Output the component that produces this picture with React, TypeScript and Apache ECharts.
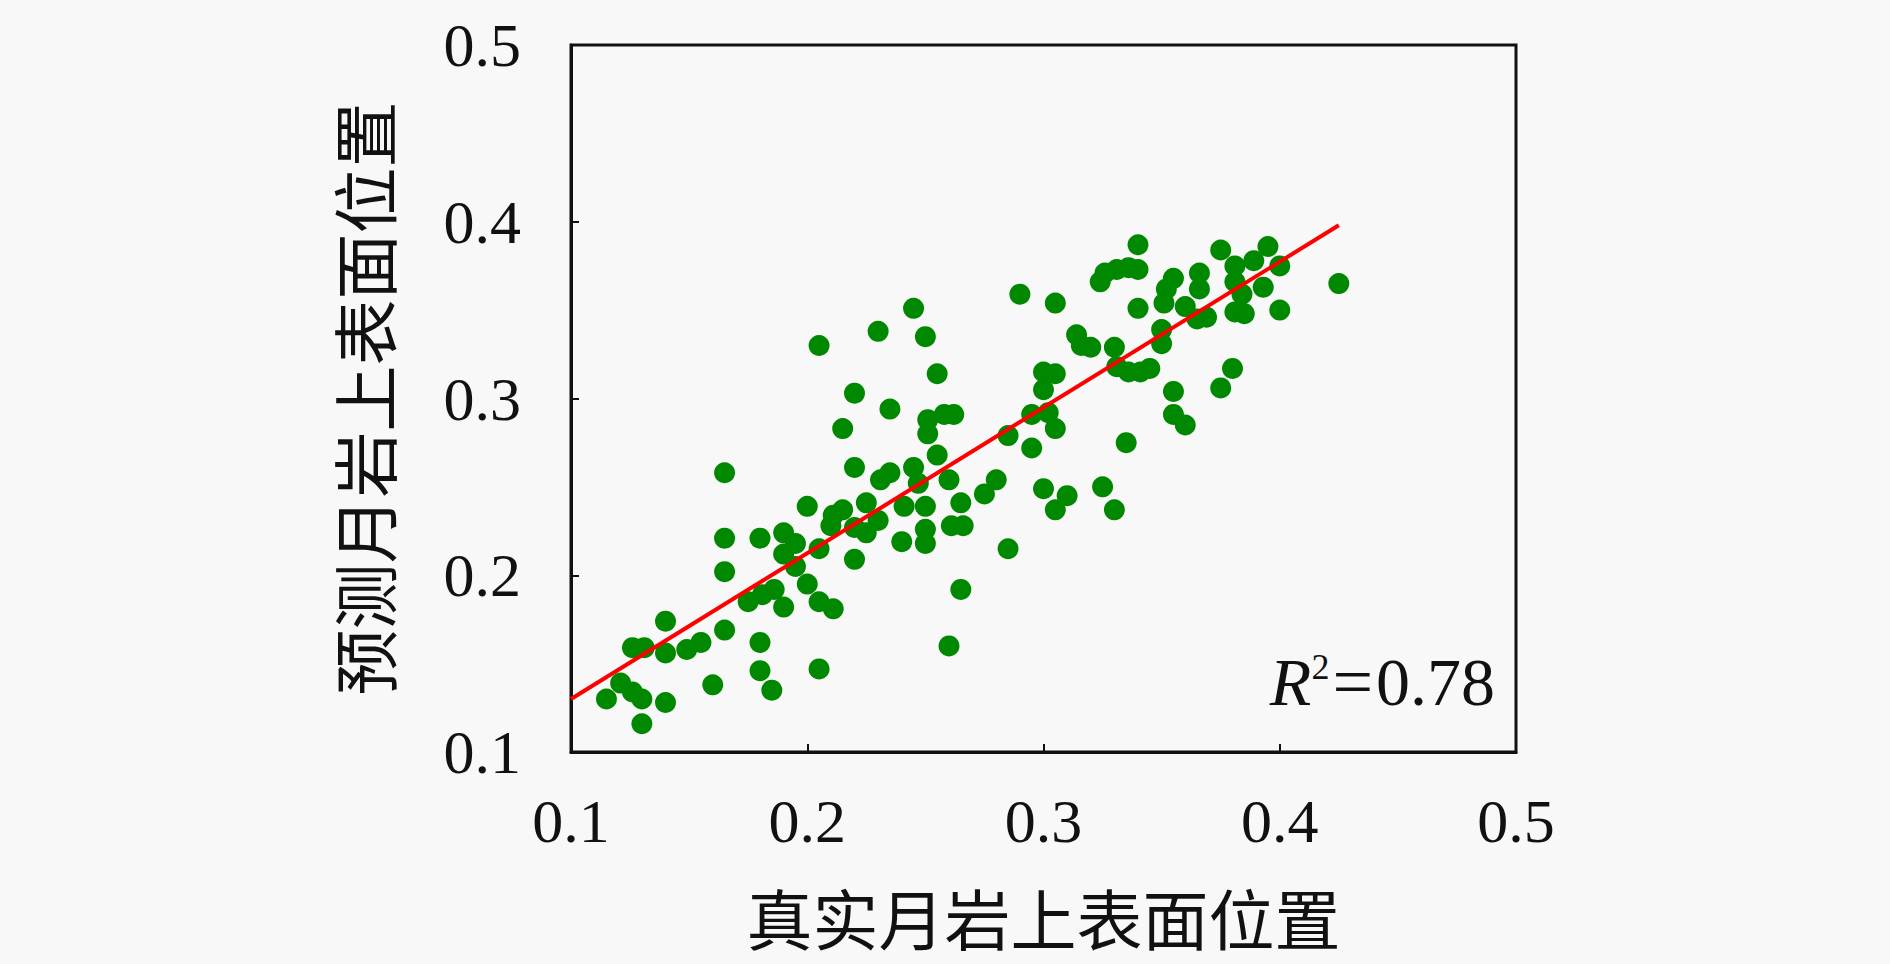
import React, { useEffect, useRef } from "react";
import * as echarts from "echarts";

// Real (x) and predicted (y) upper-surface positions of lunar rock
const realPos = [
  0.115, 0.121, 0.126, 0.131, 0.126, 0.130, 0.130, 0.140, 0.140, 0.140, 0.149, 0.155,
  0.160, 0.165, 0.165, 0.165, 0.165, 0.180, 0.180, 0.180, 0.185,
  0.175, 0.181, 0.186, 0.190, 0.190, 0.195, 0.190, 0.195,
  0.200, 0.200, 0.205, 0.211, 0.205, 0.205,
  0.215, 0.220, 0.220, 0.211, 0.215, 0.210, 0.220, 0.225, 0.225, 0.230,
  0.235, 0.231, 0.235, 0.241, 0.245, 0.247, 0.250, 0.255, 0.251, 0.251, 0.258, 0.262, 0.260,
  0.240, 0.250, 0.250, 0.265, 0.261, 0.266, 0.260, 0.265, 0.275, 0.280,
  0.285, 0.285, 0.295, 0.295,
  0.205, 0.220, 0.230, 0.245, 0.250, 0.255,
  0.300, 0.310, 0.305, 0.325, 0.330, 0.335, 0.355, 0.355, 0.360, 0.375, 0.380,
  0.300, 0.305, 0.300, 0.302, 0.305,
  0.290, 0.305, 0.314, 0.320, 0.316, 0.330, 0.331, 0.336, 0.341, 0.345, 0.350, 0.350,
  0.340, 0.326, 0.324, 0.331, 0.336, 0.340, 0.340,
  0.352, 0.355, 0.351, 0.360, 0.366, 0.366, 0.369, 0.365, 0.384,
  0.375, 0.381, 0.381, 0.381, 0.385, 0.389, 0.395, 0.393, 0.400, 0.400, 0.425,
];
const predictedPos = [
  0.130, 0.139, 0.159, 0.159, 0.134, 0.130, 0.116, 0.128, 0.174, 0.156, 0.158, 0.162,
  0.138, 0.169, 0.202, 0.221, 0.258, 0.221, 0.162, 0.146, 0.135,
  0.185, 0.189, 0.192, 0.182, 0.224, 0.218, 0.212, 0.205,
  0.239, 0.195, 0.185, 0.181, 0.147, 0.215,
  0.283, 0.261, 0.209, 0.234, 0.237, 0.228, 0.227, 0.241, 0.224, 0.231,
  0.294, 0.254, 0.258, 0.239, 0.261, 0.252, 0.239, 0.268, 0.280, 0.288, 0.291, 0.291, 0.254,
  0.219, 0.226, 0.218, 0.241, 0.228, 0.228, 0.160, 0.192, 0.246, 0.254,
  0.279, 0.215, 0.272, 0.291,
  0.330, 0.303, 0.338, 0.351, 0.335, 0.314,
  0.249, 0.245, 0.237, 0.250, 0.237, 0.275, 0.304, 0.291, 0.285, 0.306, 0.317,
  0.315, 0.314, 0.305, 0.292, 0.283,
  0.359, 0.354, 0.336, 0.329, 0.330, 0.329, 0.318, 0.315, 0.315, 0.317, 0.339, 0.331,
  0.387, 0.371, 0.366, 0.373, 0.374, 0.373, 0.351,
  0.362, 0.368, 0.354, 0.352, 0.371, 0.362, 0.346, 0.345, 0.359,
  0.384, 0.375, 0.366, 0.349, 0.348, 0.378, 0.386, 0.363, 0.375, 0.350, 0.365,
];

// Fitted regression line end points
const fitX = [0.1, 0.425];
const fitY = [0.13, 0.398];

const axisTicks = [0.1, 0.2, 0.3, 0.4, 0.5];
const xTitle = "真实月岩上表面位置";
const yTitle = "预测月岩上表面位置";
const r2Value = "0.78";

const serif = "'Liberation Serif', 'DejaVu Serif', serif";
const cjk = "'Noto Sans CJK SC', sans-serif";

export default function App() {
  const ref = useRef<HTMLDivElement>(null);

  useEffect(() => {
    document.body.style.margin = "0";
    document.body.style.background = "#f8f8f8";
    if (!ref.current) return;
    const chart = echarts.init(ref.current, undefined, { renderer: "svg" });

    const points = realPos.map((x, i) => [x, predictedPos[i]]);
    const fitLine = fitX.map((x, i) => [x, fitY[i]]);

    const axisCommon = {
      type: "value" as const,
      min: axisTicks[0],
      max: axisTicks[axisTicks.length - 1],
      interval: 0.1,
      splitLine: { show: false },
      axisLine: { show: true, onZero: false, lineStyle: { color: "#111", width: 3 } },
      axisTick: { show: true, inside: true, length: 8, lineStyle: { color: "#111", width: 2 } },
    };

    chart.setOption({
      animation: false,
      backgroundColor: "#f8f8f8",
      grid: {
        left: 571,
        right: 374,
        top: 45,
        bottom: 212,
        show: true,
        borderColor: "#111",
        borderWidth: 3,
        backgroundColor: "transparent",
      },
      xAxis: {
        ...axisCommon,
        name: xTitle,
        nameLocation: "middle",
        nameGap: 131,
        nameTextStyle: { fontFamily: cjk, fontSize: 66, lineHeight: 66, color: "#111" },
        axisLabel: {
          margin: 38,
          fontFamily: serif,
          fontSize: 62,
          color: "#111",
          formatter: (v: number) => v.toFixed(1),
        },
      },
      yAxis: {
        ...axisCommon,
        name: yTitle,
        nameLocation: "middle",
        nameGap: 176,
        nameTextStyle: { fontFamily: cjk, fontSize: 66, lineHeight: 66, color: "#111" },
        axisLabel: {
          margin: 50,
          fontFamily: serif,
          fontSize: 62,
          color: "#111",
          formatter: (v: number) => v.toFixed(1),
        },
      },
      series: [
        {
          type: "scatter",
          data: points,
          symbol: "circle",
          symbolSize: 21,
          itemStyle: { color: "#008800", opacity: 1 },
          z: 2,
        },
        {
          type: "line",
          data: fitLine,
          symbol: "none",
          lineStyle: { color: "#ff0000", width: 4 },
          z: 3,
        },
      ],
      graphic: [
        {
          type: "text",
          right: 395,
          top: 646,
          style: {
            text: "{i|R}{s|2}{e|=}{n|" + r2Value + "}",
            rich: {
              i: { fontFamily: serif, fontStyle: "italic", fontSize: 68, fill: "#111", lineHeight: 66 },
              s: { fontFamily: serif, fontSize: 36, fill: "#111", verticalAlign: "top", lineHeight: 66 },
              e: { fontFamily: serif, fontSize: 72, fill: "#111", lineHeight: 66, padding: [0, 3, 0, 3] },
              n: { fontFamily: serif, fontSize: 68, fill: "#111", lineHeight: 66 },
            },
          },
          z: 10,
        },
      ],
    });

    return () => chart.dispose();
  }, []);

  return <div ref={ref} style={{ width: 1890, height: 964 }} />;
}
